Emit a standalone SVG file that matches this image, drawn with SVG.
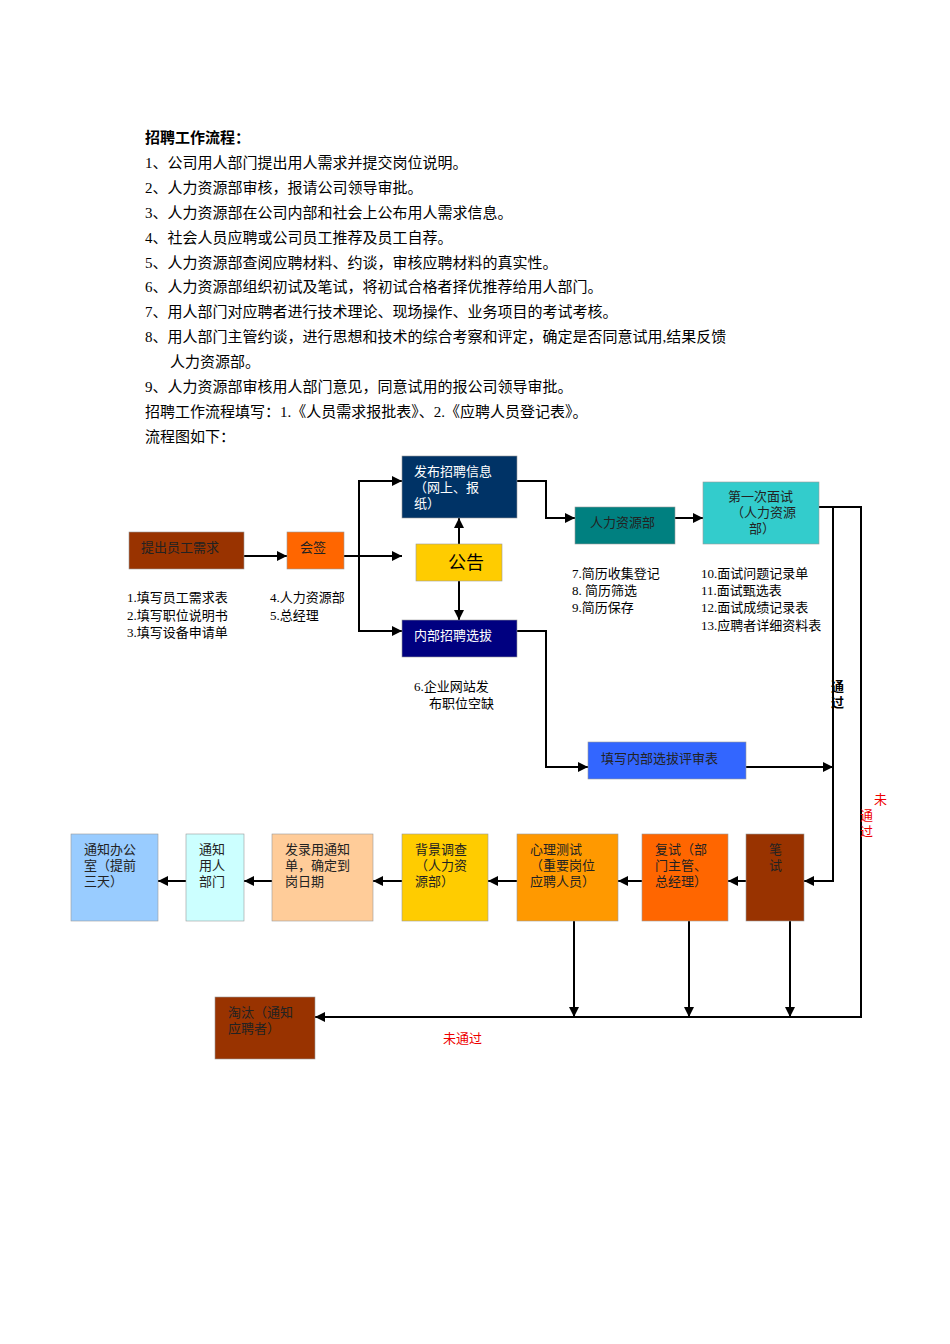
<svg xmlns="http://www.w3.org/2000/svg" width="950" height="1344" viewBox="0 0 950 1344">
<style>
text{font-family:"Liberation Serif","Noto Sans CJK SC",serif;}
.p{font-size:15px;fill:#000}
.n{font-size:13px;fill:#000}
.b{font-size:13px;fill:#222}
.w{font-size:13px;fill:#fff}
.c{stroke:#000;stroke-width:2;fill:none}
.r{fill:#e00;font-size:13px}
rect{stroke:#999;stroke-width:0.6}
</style>
<defs><marker id="a" viewBox="0 0 10 10" refX="10" refY="5" markerWidth="5" markerHeight="5" orient="auto"><path d="M0,0L10,5L0,10z" fill="#000"/></marker></defs>
<g id="intro">
<text class="p" x="145" y="143" font-weight="bold">招聘工作流程：</text>
<text class="p" x="145" y="168">1、公司用人部门提出用人需求并提交岗位说明。</text>
<text class="p" x="145" y="193">2、人力资源部审核，报请公司领导审批。</text>
<text class="p" x="145" y="218">3、人力资源部在公司内部和社会上公布用人需求信息。</text>
<text class="p" x="145" y="243">4、社会人员应聘或公司员工推荐及员工自荐。</text>
<text class="p" x="145" y="268">5、人力资源部查阅应聘材料、约谈，审核应聘材料的真实性。</text>
<text class="p" x="145" y="292">6、人力资源部组织初试及笔试，将初试合格者择优推荐给用人部门。</text>
<text class="p" x="145" y="317">7、用人部门对应聘者进行技术理论、现场操作、业务项目的考试考核。</text>
<text class="p" x="145" y="342">8、用人部门主管约谈，进行思想和技术的综合考察和评定，确定是否同意试用,结果反馈</text>
<text class="p" x="170" y="367">人力资源部。</text>
<text class="p" x="145" y="392">9、人力资源部审核用人部门意见，同意试用的报公司领导审批。</text>
<text class="p" x="145" y="417">招聘工作流程填写：1.《人员需求报批表》、2.《应聘人员登记表》。</text>
<text class="p" x="145" y="442">流程图如下：</text>
</g>
<g id="connectors">
<path class="c" marker-end="url(#a)" d="M244,556H287"/>
<path class="c" marker-end="url(#a)" d="M344,556H402"/>
<path class="c" marker-end="url(#a)" d="M359,556V481H402"/>
<path class="c" marker-end="url(#a)" d="M359,556V631H402"/>
<path class="c" marker-end="url(#a)" d="M459,544V518"/>
<path class="c" marker-end="url(#a)" d="M459,581V620"/>
<path class="c" marker-end="url(#a)" d="M517,481H546V518H575"/>
<path class="c" marker-end="url(#a)" d="M675,518H703"/>
<path class="c" marker-end="url(#a)" d="M819,507H861V1017H315"/>
<path class="c" marker-end="url(#a)" d="M833,507V881H804"/>
<path class="c" marker-end="url(#a)" d="M517,631H546V767H588"/>
<path class="c" marker-end="url(#a)" d="M746,767H833"/>
<path class="c" marker-end="url(#a)" d="M746,881H728"/>
<path class="c" marker-end="url(#a)" d="M642,881H618"/>
<path class="c" marker-end="url(#a)" d="M517,881H488"/>
<path class="c" marker-end="url(#a)" d="M402,881H373"/>
<path class="c" marker-end="url(#a)" d="M272,881H244"/>
<path class="c" marker-end="url(#a)" d="M186,881H158"/>
<path class="c" marker-end="url(#a)" d="M574,921V1017"/>
<path class="c" marker-end="url(#a)" d="M689,921V1017"/>
<path class="c" marker-end="url(#a)" d="M790,921V1017"/>
<text class="n" x="831" y="691" font-weight="bold">通</text>
<text class="n" x="831" y="707" font-weight="bold">过</text>
<text class="r" x="874" y="804">未</text>
<text class="r" x="860" y="820">通</text>
<text class="r" x="860" y="836">过</text>
<text class="r" x="443" y="1043">未通过</text>
</g>
<g id="n1"><rect x="129" y="532" width="115" height="37" fill="#993300"/><text class="b" x="141" y="552">提出员工需求</text></g>
<g id="n2"><rect x="287" y="532" width="57" height="37" fill="#FF6600"/><text class="b" x="300" y="552">会签</text></g>
<g id="n3"><rect x="416" y="544" width="86" height="37" fill="#FFCC00"/><text x="448" y="569" font-size="18">公告</text></g>
<g id="n4"><rect x="402" y="456" width="115" height="62" fill="#003366"/><text class="w" x="414" y="476">发布招聘信息</text><text class="w" x="414" y="492">（网上、报</text><text class="w" x="414" y="508">纸）</text></g>
<g id="n5"><rect x="402" y="620" width="115" height="37" fill="#000080"/><text class="w" x="414" y="640">内部招聘选拔</text></g>
<g id="n6"><rect x="575" y="507" width="100" height="37" fill="#008080"/><text class="b" x="590" y="527">人力资源部</text></g>
<g id="n7"><rect x="703" y="482" width="116" height="62" fill="#33CCCC"/><text class="b" x="728" y="501">第一次面试</text><text class="b" x="731" y="517">（人力资源</text><text class="b" x="749" y="533">部）</text></g>
<g id="n8"><rect x="588" y="742" width="158" height="37" fill="#3366FF"/><text class="b" x="601" y="763">填写内部选拔评审表</text></g>
<g id="labels">
<text class="n" x="127" y="602">1.填写员工需求表</text><text class="n" x="127" y="620">2.填写职位说明书</text><text class="n" x="127" y="637">3.填写设备申请单</text>
<text class="n" x="270" y="602">4.人力资源部</text><text class="n" x="270" y="620">5.总经理</text>
<text class="n" x="414" y="691">6.企业网站发</text><text class="n" x="429" y="708">布职位空缺</text>
<text class="n" x="572" y="578">7.简历收集登记</text><text class="n" x="572" y="595">8. 简历筛选</text><text class="n" x="572" y="612">9.简历保存</text>
<text class="n" x="701" y="578">10.面试问题记录单</text><text class="n" x="701" y="595">11.面试甄选表</text><text class="n" x="701" y="612">12.面试成绩记录表</text><text class="n" x="701" y="630">13.应聘者详细资料表</text>
</g>
<g id="n9"><rect x="71" y="834" width="87" height="87" fill="#99CCFF"/><text class="b" x="84" y="854">通知办公</text><text class="b" x="84" y="870">室（提前</text><text class="b" x="84" y="886">三天）</text></g>
<g id="n10"><rect x="186" y="834" width="58" height="87" fill="#CCFFFF"/><text class="b" x="199" y="854">通知</text><text class="b" x="199" y="870">用人</text><text class="b" x="199" y="886">部门</text></g>
<g id="n11"><rect x="272" y="834" width="101" height="87" fill="#FFCC99"/><text class="b" x="285" y="854">发录用通知</text><text class="b" x="285" y="870">单，确定到</text><text class="b" x="285" y="886">岗日期</text></g>
<g id="n12"><rect x="402" y="834" width="86" height="87" fill="#FFCC00"/><text class="b" x="415" y="854">背景调查</text><text class="b" x="415" y="870">（人力资</text><text class="b" x="415" y="886">源部）</text></g>
<g id="n13"><rect x="517" y="834" width="101" height="87" fill="#FF9900"/><text class="b" x="530" y="854">心理测试</text><text class="b" x="530" y="870">（重要岗位</text><text class="b" x="530" y="886">应聘人员）</text></g>
<g id="n14"><rect x="642" y="834" width="86" height="87" fill="#FF6600"/><text class="b" x="655" y="854">复试（部</text><text class="b" x="655" y="870">门主管、</text><text class="b" x="655" y="886">总经理）</text></g>
<g id="n15"><rect x="746" y="834" width="58" height="87" fill="#993300"/><text class="b" x="769" y="854">笔</text><text class="b" x="769" y="870">试</text></g>
<g id="n16"><rect x="215" y="997" width="100" height="62" fill="#993300"/><text class="b" x="228" y="1017">淘汰（通知</text><text class="b" x="228" y="1033">应聘者）</text></g>
</svg>
